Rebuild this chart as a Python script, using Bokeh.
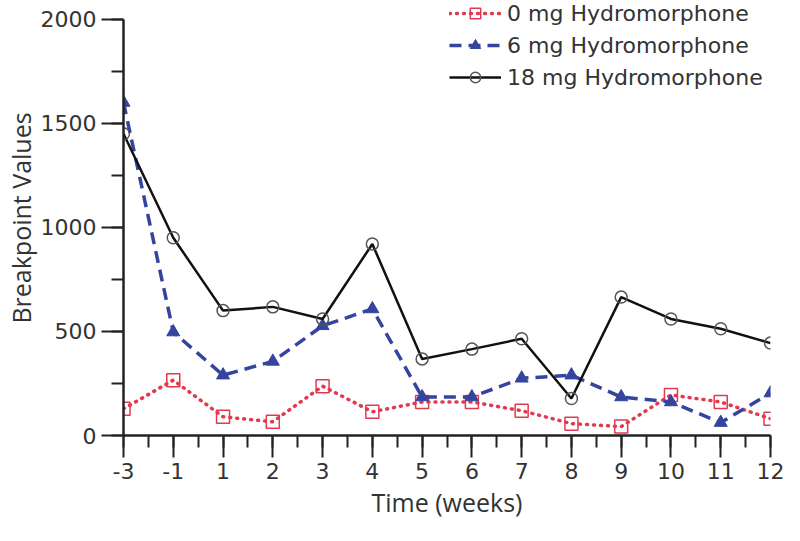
from bokeh.plotting import figure
from bokeh.models import Range1d, SingleIntervalTicker, Legend, LegendItem, ColumnDataSource
from bokeh.embed import file_html
from bokeh.resources import INLINE

weeks = ["-3", "-1", "1", "2", "3", "4", "5", "6", "7", "8", "9", "10", "11", "12"]
dose0 = [128, 266, 90, 66, 237, 114, 161, 161, 119, 57, 43, 195, 161, 81]
dose6 = [1600, 497, 290, 356, 527, 608, 185, 185, 275, 290, 185, 161, 62, 204]
dose18 = [1450, 950, 600, 618, 560, 920, 368, 415, 465, 178, 665, 560, 513, 444]
labels = ["0 mg Hydromorphone", "6 mg Hydromorphone", "18 mg Hydromorphone"]
y_max = 2000

xs = list(range(len(weeks)))
src = ColumnDataSource(dict(x=xs, d0=dose0, d6=dose6, d18=dose18))

W, H = 784, 525
TOP, BOTTOM, LEFT, RIGHT = 0, 90, 122, 14

p = figure(width=W, height=H, output_backend="svg", toolbar_location=None,
           x_range=Range1d(0, len(weeks) - 1), y_range=Range1d(0, 2090),
           min_border_left=LEFT, min_border_right=RIGHT, min_border_top=TOP,
           min_border_bottom=BOTTOM)
p.outline_line_color = None
p.grid.visible = False
p.background_fill_color = "white"

red = "#e2394f"
blue = "#34449f"
black = "#111111"

l0 = p.line("x", "d0", source=src, line_color=red, line_width=3.5, line_dash="1 6",
            line_cap="round")
m0 = p.scatter("x", "d0", source=src, marker="square", size=13, line_color=red,
               fill_color="white", fill_alpha=0.0, line_width=1.5)
l6 = p.line("x", "d6", source=src, line_color=blue, line_width=3.5, line_dash="12 7")
m6 = p.scatter("x", "d6", source=src, marker="triangle", size=13, line_color=blue,
               fill_color=blue, line_width=1)
l18 = p.line("x", "d18", source=src, line_color=black, line_width=2.5)
m18 = p.scatter("x", "d18", source=src, marker="circle", size=12, line_color="#555555",
                fill_color="white", fill_alpha=0.0, line_width=1.5)

p.xaxis.ticker = SingleIntervalTicker(interval=1, num_minor_ticks=2)
p.xaxis.major_label_overrides = {i: w for i, w in enumerate(weeks)}
p.yaxis.ticker = SingleIntervalTicker(interval=500, num_minor_ticks=2)
p.yaxis.bounds = (0, y_max)

for ax in (p.xaxis[0], p.yaxis[0]):
    ax.axis_line_width = 2.5
    ax.axis_line_color = "#222222"
    ax.major_tick_line_width = 2
    ax.minor_tick_line_width = 2
    ax.major_tick_line_color = "#222222"
    ax.minor_tick_line_color = "#222222"
    ax.major_tick_in = 0
    ax.minor_tick_in = 0
    ax.major_tick_out = 22
    ax.minor_tick_out = 12
    ax.major_label_text_font = "DejaVu Sans"
    ax.major_label_text_font_size = "22px"
    ax.major_label_text_color = "#333333"
    ax.axis_label_text_font = "Open Sans"
    ax.axis_label_text_font_size = "25px"
    ax.axis_label_text_font_style = "normal"
    ax.axis_label_text_color = "#333333"

p.xaxis.axis_label = "Time (weeks)"
p.yaxis.axis_label = "Breakpoint Values"
p.xaxis.major_label_standoff = 5
p.xaxis.axis_label_standoff = 3
p.yaxis.major_label_standoff = 5
p.yaxis.axis_label_standoff = 0

frame_h = H - TOP - BOTTOM
legend_h = 3 * 26 + 2 * 6
legend = Legend(items=[LegendItem(label=labels[0], renderers=[l0, m0]),
                       LegendItem(label=labels[1], renderers=[l6, m6]),
                       LegendItem(label=labels[2], renderers=[l18, m18])],
                location=(326, frame_h + TOP - legend_h), padding=0, margin=0, spacing=6,
                glyph_width=52, glyph_height=26, label_height=26, label_standoff=6,
                label_text_font="DejaVu Sans", label_text_font_size="22px",
                label_text_color="#333333", border_line_color=None,
                background_fill_alpha=0.0)
p.add_layout(legend, "center")

open("out.html", "w").write(file_html(p, INLINE))
